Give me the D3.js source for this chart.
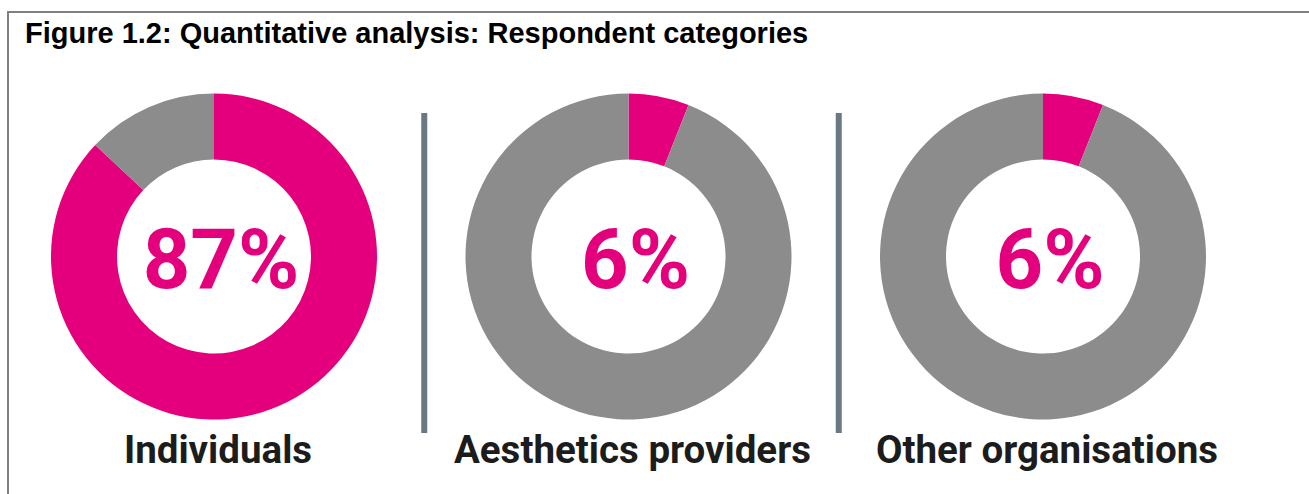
<!DOCTYPE html>
<html><head><meta charset="utf-8">
<script src="https://cdn.jsdelivr.net/npm/d3@7"></script>
<style>html,body{margin:0;padding:0;background:#fff;}svg{display:block;}</style>
</head><body>
<svg id="chart" width="1309" height="494"></svg>
<script>
const title = "Figure 1.2: Quantitative analysis: Respondent categories";
const categories = ["Individuals", "Aesthetics providers", "Other organisations"];
const shareValues = [87, 6, 6];
const percentLabels = ["87%", "6%", "6%"];

const svg = d3.select("#chart");
const W = 1309, H = 494;
const pink = "#e4007c", grey = "#8c8c8c";

svg.append("rect").attr("x", 8).attr("y", 12).attr("width", W + 10).attr("height", H + 10)
  .attr("fill", "none").attr("stroke", "#808080").attr("stroke-width", 2);

svg.append("text").attr("x", 25).attr("y", 43)
  .attr("font-family", "'Liberation Sans', Arial, sans-serif").attr("font-weight", "bold")
  .attr("font-size", 29).attr("fill", "#000").text(title);

const x = d3.scalePoint().domain(categories).range([214, 1043]);
const cy = 256.5, rO = 163, rI = 97;
const pie = d3.pie().sort(null).value(d => d);
const arc = d3.arc().innerRadius(rI).outerRadius(rO);

categories.forEach((c, i) => {
  const g = svg.append("g").attr("transform", `translate(${x(c)},${cy})`);
  g.selectAll("path").data(pie([shareValues[i], 100 - shareValues[i]])).join("path")
    .attr("d", arc).attr("fill", (d, j) => j === 0 ? pink : grey);
  g.append("text").attr("x", 7).attr("y", 31).attr("text-anchor", "middle")
    .attr("font-family", "Roboto, sans-serif").attr("font-weight", "bold")
    .attr("font-size", 83).attr("fill", pink).text(percentLabels[i]);
  g.append("text").attr("x", 4).attr("y", 463 - cy).attr("text-anchor", "middle")
    .attr("font-family", "Roboto, sans-serif").attr("font-weight", "bold")
    .attr("font-size", 38.5).attr("fill", "#1c1c1c").text(c);
});

// separators between donuts
for (let i = 0; i < categories.length - 1; i++) {
  const sx = (x(categories[i]) + x(categories[i + 1])) / 2 + 3;
  svg.append("rect").attr("x", sx - 3).attr("y", 113).attr("width", 6).attr("height", 320)
    .attr("fill", "#6a7883");
}
</script>
</body></html>
